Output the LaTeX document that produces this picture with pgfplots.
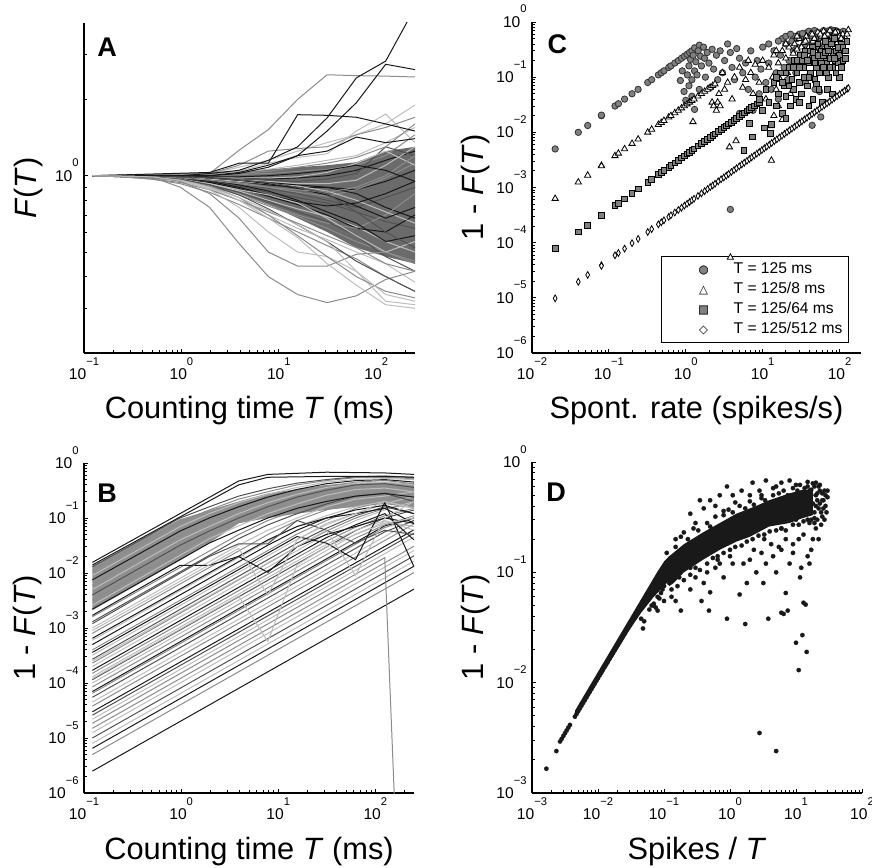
\documentclass[border=0pt]{standalone}
\usepackage{fontspec}
\setmainfont{Liberation Sans}
\newfontfamily\symfont{DejaVu Sans}
\usepackage{pgfplots}
\pgfplotsset{compat=1.18}
\newcommand{\tl}[1]{10\raisebox{7.3pt}{\fontsize{5.6}{6}\selectfont #1}}
\definecolor{ck}{gray}{0.1}
\definecolor{cd}{gray}{0.32}
\definecolor{cg}{gray}{0.55}
\definecolor{cl}{gray}{0.74}
\definecolor{fillA}{gray}{0.42}
\definecolor{fillB}{gray}{0.56}
\definecolor{mkgray}{gray}{0.5}
\definecolor{mkedge}{gray}{0.2}
\newcommand{\twoglyph}[3]{\makebox[14pt][c]{\symfont\fontsize{5.8}{6}\selectfont\makebox[0pt][c]{\textcolor{#1}{#2}}\makebox[0pt][c]{\textcolor{black}{#3}}}}
\pgfplotsset{
 every axis/.append style={scale only axis, axis lines*=left, tick align=inside,
  major tick length=2.2pt, minor tick length=1.3pt,
  tick style={black, line width=0.4pt},
  axis line style={black, line width=0.6pt},
  tick label style={font=\fontsize{7.8}{9}\selectfont},
  xticklabel style={anchor=north, inner sep=2pt},
  yticklabel style={anchor=base east, yshift=-2.8pt, inner sep=2.5pt},
  x label style={at={(axis description cs:0.5,0)}, anchor=base, yshift=-33pt, font=\fontsize{15.4}{18}\selectfont},
  y label style={at={(axis description cs:-0.147,0.5)}, anchor=base, font=\fontsize{15.4}{18}\selectfont},
 },
 lk/.style={ck, line width=0.5pt}, ld/.style={cd,line width=0.5pt},
 lg/.style={cg,line width=0.5pt}, ll/.style={cl,line width=0.5pt},
}
\begin{document}
\begin{tikzpicture}
%================ Panel A ================
\begin{axis}[xmode=log, ymode=log, at={(42pt,257pt)}, anchor=south west, width=165.5pt, height=165pt,
  xmin=0.1, xmax=250, ymin=0.2, ymax=4,
  xtick={0.1,1,10,100}, xticklabels={\tl{−1},\tl{0},\tl{1},\tl{2}},
  minor xtick={0.2,0.3,0.4,0.5,0.6,0.7,0.8,0.9,2,3,4,5,6,7,8,9,20,30,40,50,60,70,80,90,200},
  ytick={1}, yticklabels={\tl{0}},
  minor ytick={0.3,0.4,0.5,0.6,0.7,0.8,0.9,2,3},
  xlabel={Counting time \textit{T} (ms)}, ylabel={\textit{F}(\textit{T})},
  y label style={at={(axis description cs:-0.142,0.5)}}]
\addplot[fill=fillA, draw=none] coordinates {(0.122,1.0)(0.977,1.015)(1.95,1.03)(3.91,1.04)(7.81,1.06)(15.6,1.08)(31.3,1.1)(62.5,1.13)(125,1.25)(250,1.3)(250,0.45)(125,0.48)(62.5,0.52)(31.3,0.6)(15.6,0.68)(7.81,0.77)(3.91,0.85)(1.95,0.92)(0.977,0.965)(0.488,0.985)(0.244,0.995)(0.122,1.0)} -- cycle;
\addplot[ll] coordinates {(0.122,1)(0.244,1)(0.488,0.99)(0.977,0.97)(1.95,0.93)(3.91,0.87)(7.81,0.8)(15.6,0.74)(31.3,0.69)(62.5,0.63)(125,0.55)(250,0.5)};
\addplot[lk] coordinates {(0.122,1)(0.244,1)(0.488,1)(0.977,0.99)(1.95,0.98)(3.91,0.96)(7.81,0.94)(15.6,0.92)(31.3,0.9)(62.5,0.88)(125,0.95)(250,1.05)};
\addplot[ld] coordinates {(0.122,1)(0.244,1)(0.488,0.99)(0.977,0.98)(1.95,0.95)(3.91,0.91)(7.81,0.86)(15.6,0.82)(31.3,0.78)(62.5,0.72)(125,0.66)(250,0.62)};
\addplot[lg] coordinates {(0.122,1)(0.244,1)(0.488,1)(0.977,0.99)(1.95,0.97)(3.91,0.94)(7.81,0.9)(15.6,0.86)(31.3,0.83)(62.5,0.88)(125,0.98)(250,1.12)};
\addplot[lk] coordinates {(0.122,1)(0.244,1)(0.488,1)(0.977,1)(1.95,0.99)(3.91,0.98)(7.81,0.97)(15.6,0.98)(31.3,1.0)(62.5,1.05)(125,1.15)(250,1.25)};
\addplot[lg] coordinates {(0.122,1)(0.244,0.99)(0.488,0.98)(0.977,0.96)(1.95,0.91)(3.91,0.84)(7.81,0.76)(15.6,0.69)(31.3,0.62)(62.5,0.55)(125,0.5)(250,0.46)};
\addplot[ll] coordinates {(0.122,1)(0.244,1)(0.488,1)(0.977,0.99)(1.95,0.98)(3.91,0.97)(7.81,0.95)(15.6,0.93)(31.3,0.93)(62.5,0.96)(125,1.1)(250,1.3)};
\addplot[lk] coordinates {(0.122,1)(0.244,1)(0.488,0.99)(0.977,0.97)(1.95,0.94)(3.91,0.89)(7.81,0.83)(15.6,0.77)(31.3,0.7)(62.5,0.62)(125,0.6)(250,0.7)};
\addplot[ld] coordinates {(0.122,1)(0.244,1)(0.488,0.99)(0.977,0.98)(1.95,0.96)(3.91,0.93)(7.81,0.89)(15.6,0.85)(31.3,0.8)(62.5,0.75)(125,0.82)(250,0.9)};
\addplot[ll] coordinates {(0.122,1)(0.244,0.99)(0.488,0.98)(0.977,0.95)(1.95,0.89)(3.91,0.8)(7.81,0.7)(15.6,0.62)(31.3,0.56)(62.5,0.5)(125,0.45)(250,0.38)};
\addplot[lg] coordinates {(0.122,1)(0.244,1)(0.488,1)(0.977,1)(1.95,1)(3.91,1.01)(7.81,1.02)(15.6,1.04)(31.3,1.06)(62.5,1.1)(125,1.2)(250,1.45)};
\addplot[lk] coordinates {(0.122,1)(0.244,1)(0.488,0.99)(0.977,0.98)(1.95,0.97)(3.91,0.95)(7.81,0.92)(15.6,0.9)(31.3,0.9)(62.5,0.85)(125,0.75)(250,0.68)};
\addplot[lg] coordinates {(0.122,1)(0.244,1)(0.488,0.99)(0.977,0.97)(1.95,0.92)(3.91,0.85)(7.81,0.77)(15.6,0.7)(31.3,0.65)(62.5,0.62)(125,0.7)(250,0.85)};
\addplot[ld] coordinates {(0.122,1)(0.244,1)(0.488,1)(0.977,0.99)(1.95,0.98)(3.91,0.97)(7.81,0.96)(15.6,0.95)(31.3,0.97)(62.5,1.02)(125,1.3)(250,1.2)};
\addplot[lg] coordinates {(0.122,1)(0.244,0.99)(0.488,0.97)(0.977,0.93)(1.95,0.86)(3.91,0.77)(7.81,0.68)(15.6,0.6)(31.3,0.53)(62.5,0.47)(125,0.4)(250,0.35)};
\addplot[ll] coordinates {(0.122,1)(0.244,1)(0.488,1)(0.977,0.99)(1.95,0.99)(3.91,0.98)(7.81,0.98)(15.6,0.99)(31.3,1.03)(62.5,1.12)(125,1.25)(250,1.1)};
\addplot[lk] coordinates {(0.122,1)(0.244,1)(0.488,0.99)(0.977,0.98)(1.95,0.96)(3.91,0.92)(7.81,0.87)(15.6,0.8)(31.3,0.72)(62.5,0.65)(125,0.55)(250,0.58)};
\addplot[ll] coordinates {(0.122,1)(0.244,1)(0.488,1)(0.977,0.99)(1.95,0.97)(3.91,0.95)(7.81,0.93)(15.6,0.91)(31.3,0.87)(62.5,0.8)(125,0.72)(250,0.65)};
\addplot[lk] coordinates {(0.122,1)(0.244,1)(0.488,0.99)(0.977,0.98)(1.95,0.95)(3.91,0.9)(7.81,0.84)(15.6,0.79)(31.3,0.76)(62.5,0.78)(125,0.85)(250,0.95)};
\addplot[ld] coordinates {(0.122,1)(0.244,0.99)(0.488,0.98)(0.977,0.96)(1.95,0.92)(3.91,0.86)(7.81,0.79)(15.6,0.72)(31.3,0.66)(62.5,0.58)(125,0.48)(250,0.42)};
\addplot[ll] coordinates {(0.122,1)(0.244,1)(0.488,1)(0.977,1)(1.95,1.01)(3.91,1.03)(7.81,1.06)(15.6,1.1)(31.3,1.15)(62.5,1.2)(125,1.35)(250,1.55)};
\addplot[lg] coordinates {(0.122,1)(0.244,1)(0.488,1)(0.977,1)(1.95,1.01)(3.91,1.02)(7.81,1.04)(15.6,1.08)(31.3,1.12)(62.5,1.18)(125,1.3)(250,1.6)};
\addplot[ll] coordinates {(0.122,1)(0.244,1)(0.488,0.99)(0.977,0.97)(1.95,0.93)(3.91,0.88)(7.81,0.84)(15.6,0.78)(31.3,0.68)(62.5,0.58)(125,0.5)(250,0.55)};
\addplot[lk] coordinates {(0.122,1)(0.244,1)(0.488,1)(0.977,0.99)(1.95,0.98)(3.91,0.96)(7.81,0.93)(15.6,0.89)(31.3,0.84)(62.5,0.76)(125,0.68)(250,0.75)};
\addplot[lg] coordinates {(0.122,1)(0.244,0.99)(0.488,0.97)(0.977,0.94)(1.95,0.88)(3.91,0.8)(7.81,0.72)(15.6,0.65)(31.3,0.58)(62.5,0.52)(125,0.45)(250,0.42)};
\addplot[lg] coordinates {(0.122,1)(0.244,1)(0.488,0.99)(0.977,0.98)(1.95,0.96)(3.91,0.93)(7.81,0.9)(15.6,0.88)(31.3,0.86)(62.5,0.9)(125,1.0)(250,1.2)};
\addplot[ld] coordinates {(0.122,1)(0.244,1)(0.488,1)(0.977,0.99)(1.95,0.98)(3.91,0.96)(7.81,0.94)(15.6,0.9)(31.3,0.85)(62.5,0.72)(125,0.6)(250,0.52)};
\addplot[lk] coordinates {(0.122,1)(0.244,1)(0.488,1)(0.977,1)(1.95,0.99)(3.91,0.99)(7.81,1.0)(15.6,1.02)(31.3,1.05)(62.5,1.1)(125,1.05)(250,0.95)};
\addplot[ll] coordinates {(0.122,1)(1.95,1.02)(3.91,1.08)(7.81,1.15)(15.6,1.25)(31.3,1.35)(62.5,1.45)(125,1.6)(250,1.9)};
\addplot[lg] coordinates {(0.122,1)(1.95,1.02)(3.91,1.1)(7.81,1.25)(15.6,1.28)(31.3,1.3)(62.5,1.45)(125,1.55)(250,1.7)};
\addplot[ll] coordinates {(0.122,1)(1.95,1.0)(3.91,1.04)(7.81,1.12)(15.6,1.18)(31.3,1.22)(62.5,1.5)(125,1.75)(250,1.35)};
\addplot[lk] coordinates {(0.122,1)(1.95,1.0)(3.91,1.03)(7.81,1.1)(15.6,1.2)(31.3,1.25)(62.5,1.42)(125,1.35)(250,1.4)};
\addplot[lg] coordinates {(0.122,1)(1.95,1.02)(3.91,1.26)(7.81,1.52)(15.6,2.0)(31.3,2.5)(62.5,2.48)(125,2.47)(250,2.45)};
\addplot[lk] coordinates {(0.122,1)(1.95,1.03)(3.91,1.12)(7.81,1.12)(15.6,1.74)(31.3,1.73)(62.5,1.7)(125,1.6)(250,1.5)};
\addplot[lk] coordinates {(0.122,1)(1.95,1.0)(3.91,1.02)(7.81,1.08)(15.6,1.2)(31.3,1.5)(62.5,1.94)(125,2.75)(250,2.62)};
\addplot[lk] coordinates {(0.122,1)(0.977,1)(1.95,1.02)(3.91,1.05)(7.81,1.15)(15.6,1.3)(31.3,1.69)(62.5,2.43)(125,2.83)(250,4.6)};
\addplot[lg] coordinates {(0.122,1)(0.488,0.99)(0.977,0.9)(1.95,0.75)(3.91,0.54)(7.81,0.4)(15.6,0.34)(31.3,0.316)(62.5,0.336)(125,0.39)(250,0.42)};
\addplot[lg] coordinates {(0.122,1)(0.488,0.99)(0.977,0.95)(1.95,0.85)(3.91,0.68)(7.81,0.5)(15.6,0.44)(31.3,0.44)(62.5,0.49)(125,0.5)(250,0.45)};
\addplot[ll] coordinates {(0.122,1)(0.488,0.99)(0.977,0.96)(1.95,0.88)(3.91,0.75)(7.81,0.6)(15.6,0.5)(31.3,0.48)(62.5,0.42)(125,0.32)(250,0.31)};
\addplot[ll] coordinates {(0.122,1)(0.488,0.99)(0.977,0.97)(1.95,0.9)(3.91,0.8)(7.81,0.68)(15.6,0.57)(31.3,0.45)(62.5,0.37)(125,0.31)(250,0.3)};
\addplot[lg] coordinates {(0.122,1)(0.488,0.99)(0.977,0.97)(1.95,0.91)(3.91,0.82)(7.81,0.7)(15.6,0.58)(31.3,0.48)(62.5,0.4)(125,0.35)(250,0.33)};
\addplot[ld] coordinates {(0.122,1)(0.488,0.99)(0.977,0.97)(1.95,0.92)(3.91,0.84)(7.81,0.74)(15.6,0.64)(31.3,0.55)(62.5,0.46)(125,0.4)(250,0.35)};
\addplot[ll] coordinates {(0.122,1)(0.488,0.99)(0.977,0.96)(1.95,0.9)(3.91,0.82)(7.81,0.73)(15.6,0.64)(31.3,0.55)(62.5,0.42)(125,0.34)(250,0.32)};
\node[anchor=north west, inner sep=0pt, font=\fontsize{13.5}{14}\selectfont\bfseries] at (rel axis cs:0.039,0.955) {A};
\end{axis}
%================ Panel B ================
\begin{axis}[xmode=log, ymode=log, at={(42pt,37pt)}, anchor=south west, width=165pt, height=165pt,
  xmin=0.1, xmax=250, ymin=1e-6, ymax=1,
  xtick={0.1,1,10,100}, xticklabels={\tl{−1},\tl{0},\tl{1},\tl{2}},
  minor xtick={0.2,0.3,0.4,0.5,0.6,0.7,0.8,0.9,2,3,4,5,6,7,8,9,20,30,40,50,60,70,80,90,200},
  ytick={1e-6,1e-5,1e-4,1e-3,1e-2,1e-1,1}, yticklabels={\tl{−6},\tl{−5},\tl{−4},\tl{−3},\tl{−2},\tl{−1},\tl{0}},
  minor ytick={2e-6,3e-6,4e-6,5e-6,6e-6,7e-6,8e-6,9e-6,2e-5,3e-5,4e-5,5e-5,6e-5,7e-5,8e-5,9e-5,2e-4,3e-4,4e-4,5e-4,6e-4,7e-4,8e-4,9e-4,0.002,0.003,0.004,0.005,0.006,0.007,0.008,0.009,0.02,0.03,0.04,0.05,0.06,0.07,0.08,0.09,0.2,0.3,0.4,0.5,0.6,0.7,0.8,0.9},
  xlabel={Counting time \textit{T} (ms)}, ylabel={1 - \textit{F}(\textit{T})}]
\addplot[fill=fillB, draw=none] coordinates {(0.122,0.0135)(0.977,0.095)(3.91,0.2)(7.81,0.28)(31.3,0.4)(125,0.45)(250,0.42)(250,0.15)(125,0.18)(62.5,0.16)(31.3,0.14)(15.6,0.12)(7.81,0.1)(3.91,0.08)(1.95,0.035)(0.977,0.017)(0.122,0.0021)} -- cycle;
\addplot[lk] coordinates {(0.122,2.5e-6)(250,5.1e-3)};
\addplot[lg] coordinates {(0.122,5e-6)(250,1.02e-2)};
\addplot[lk] coordinates {(0.122,6.5e-6)(250,1.33e-2)};
\addplot[ll] coordinates {(0.122,8e-6)(250,1.64e-2)};
\addplot[ld] coordinates {(0.122,1e-5)(250,2.05e-2)};
\addplot[ll] coordinates {(0.122,1.25e-5)(250,2.56e-2)};
\addplot[lg] coordinates {(0.122,1.5e-5)(250,3.07e-2)};
\addplot[lg] coordinates {(0.122,1.85e-5)(125,1.9e-2)(250,1e-15)};
\addplot[ll] coordinates {(0.122,2.2e-5)(250,4.5e-2)};
\addplot[ld] coordinates {(0.122,2.6e-5)(250,5.3e-2)};
\addplot[lk] coordinates {(0.122,3e-5)(250,6.1e-2)};
\addplot[lg] coordinates {(0.122,3.8e-5)(250,7.8e-2)};
\addplot[ll] coordinates {(0.122,4.5e-5)(250,9.2e-2)};
\addplot[ld] coordinates {(0.122,5.5e-5)(125,5.6e-2)(250,9e-2)};
\addplot[lg] coordinates {(0.122,6.5e-5)(125,6.7e-2)(250,0.1)};
\addplot[lk] coordinates {(0.122,7e-5)(125,0.072)(250,0.1)};
\addplot[lg] coordinates {(0.122,8.5e-5)(62.5,0.043)(125,0.075)(250,0.11)};
\addplot[ll] coordinates {(0.122,1e-4)(62.5,0.051)(125,0.085)(250,0.07)};
\addplot[ld] coordinates {(0.122,1.15e-4)(62.5,0.059)(125,0.1)(250,0.14)};
\addplot[ll] coordinates {(0.122,1.3e-4)(31.3,0.033)(62.5,0.06)(125,0.09)(250,0.06)};
\addplot[lg] coordinates {(0.122,1.5e-4)(31.3,0.038)(62.5,0.068)(125,0.11)(250,0.15)};
\addplot[lk] coordinates {(0.122,1.7e-4)(31.3,0.044)(62.5,0.075)(125,0.12)(250,0.04)};
\addplot[ll] coordinates {(0.122,2e-4)(31.3,0.051)(62.5,0.09)(125,0.14)(250,0.2)};
\addplot[lg] coordinates {(0.122,2.3e-4)(15.6,0.03)(31.3,0.058)(62.5,0.1)(125,0.15)(250,0.18)};
\addplot[ld] coordinates {(0.122,2.7e-4)(15.6,0.035)(31.3,0.065)(62.5,0.11)(125,0.16)(250,0.12)};
\addplot[ll] coordinates {(0.122,3.2e-4)(15.6,0.041)(31.3,0.075)(62.5,0.12)(125,0.18)(250,0.25)};
\addplot[lg] coordinates {(0.122,4e-4)(15.6,0.051)(31.3,0.09)(62.5,0.15)(125,0.2)(250,0.3)};
\addplot[lk] coordinates {(0.122,5e-4)(7.81,0.032)(15.6,0.06)(31.3,0.1)(62.5,0.14)(125,0.17)(250,0.12)};
\addplot[ll] coordinates {(0.122,6e-4)(7.81,0.038)(15.6,0.07)(31.3,0.11)(62.5,0.16)(125,0.2)(250,0.15)};
\addplot[lk] coordinates {(0.122,6.5e-4)(7.81,0.04)(15.6,0.07)(31.3,0.1)(62.5,0.12)(125,0.15)(250,0.08)};
\addplot[lg] coordinates {(0.122,8e-4)(7.81,0.05)(15.6,0.09)(31.3,0.14)(62.5,0.2)(125,0.22)(250,0.25)};
\addplot[ll] coordinates {(0.122,1e-3)(3.91,0.032)(7.81,0.06)(15.6,0.1)(31.3,0.16)(62.5,0.22)(125,0.25)(250,0.3)};
\addplot[ld] coordinates {(0.122,1.3e-3)(3.91,0.042)(7.81,0.075)(15.6,0.12)(31.3,0.18)(62.5,0.25)(125,0.28)(250,0.2)};
\addplot[lg] coordinates {(0.122,1.6e-3)(3.91,0.05)(7.81,0.09)(15.6,0.14)(31.3,0.2)(62.5,0.27)(125,0.3)(250,0.35)};
\addplot[lk] coordinates {(0.122,2.2e-3)(1.95,0.035)(3.91,0.06)(7.81,0.1)(15.6,0.15)(31.3,0.2)(62.5,0.25)(125,0.28)(250,0.24)};
\addplot[ll] coordinates {(0.122,2.6e-3)(1.95,0.042)(3.91,0.072)(7.81,0.12)(15.6,0.18)(31.3,0.26)(62.5,0.33)(125,0.35)(250,0.3)};
\addplot[lg] coordinates {(0.122,3.2e-3)(1.95,0.05)(3.91,0.085)(7.81,0.14)(15.6,0.21)(31.3,0.28)(62.5,0.35)(125,0.38)(250,0.33)};
\addplot[ld] coordinates {(0.122,4e-3)(0.977,0.032)(1.95,0.058)(3.91,0.1)(7.81,0.16)(15.6,0.24)(31.3,0.32)(62.5,0.4)(125,0.42)(250,0.36)};
\addplot[ll] coordinates {(0.122,5e-3)(0.977,0.04)(1.95,0.07)(3.91,0.12)(7.81,0.19)(15.6,0.27)(31.3,0.36)(62.5,0.43)(125,0.45)(250,0.4)};
\addplot[lg] coordinates {(0.122,6e-3)(0.977,0.048)(1.95,0.085)(3.91,0.14)(7.81,0.21)(15.6,0.3)(31.3,0.38)(62.5,0.45)(125,0.48)(250,0.42)};
\addplot[lk] coordinates {(0.122,7.5e-3)(0.977,0.058)(1.95,0.1)(3.91,0.16)(7.81,0.24)(15.6,0.33)(31.3,0.42)(62.5,0.48)(125,0.5)(250,0.45)};
\addplot[ll] coordinates {(0.122,9e-3)(0.977,0.07)(1.95,0.12)(3.91,0.19)(7.81,0.27)(15.6,0.36)(31.3,0.45)(62.5,0.5)(125,0.52)(250,0.5)};
\addplot[lg] coordinates {(0.122,1.1e-2)(0.977,0.085)(1.95,0.14)(3.91,0.22)(7.81,0.3)(15.6,0.4)(31.3,0.48)(62.5,0.54)(125,0.55)(250,0.52)};
\addplot[ld] coordinates {(0.122,1.3e-2)(0.977,0.1)(1.95,0.16)(3.91,0.25)(7.81,0.34)(15.6,0.43)(31.3,0.5)(62.5,0.56)(125,0.58)(250,0.55)};
\addplot[lk] coordinates {(0.122,1.4e-2)(3.91,0.40)(7.81,0.55)(31.3,0.57)(125,0.57)(250,0.55)};
\addplot[lk] coordinates {(0.122,1.56e-2)(3.91,0.47)(7.81,0.62)(31.3,0.68)(125,0.66)(250,0.62)};
\addplot[lk] coordinates {(0.122,1.7e-3)(0.977,1.38e-2)(1.95,1.38e-2)(3.91,2e-2)(7.81,1.03e-2)(15.6,0.03)(31.3,0.05)(62.5,0.07)(125,0.1)(250,0.08)};
\addplot[lk] coordinates {(0.122,3.6e-4)(15.6,0.046)(31.3,0.035)(62.5,0.0175)(125,0.19)(250,0.013)};
\addplot[ld] coordinates {(0.122,1.2e-3)(1.95,0.02)(3.91,0.034)(7.81,0.034)(15.6,0.09)(31.3,0.06)(62.5,0.035)(125,0.06)(250,0.05)};
\addplot[ll] coordinates {(0.122,1.2e-4)(3.91,3.8e-3)(7.81,5.7e-4)(15.6,1.4e-2)(31.3,0.03)(62.5,0.05)(125,0.08)(250,0.1)};
\addplot[ll] coordinates {(0.122,2.5e-4)(31.3,0.06)(62.5,0.009)(125,0.1)(250,0.2)};
\addplot[ll] coordinates {(0.122,9e-4)(3.91,0.028)(7.81,0.004)(15.6,0.04)(31.3,0.08)(62.5,0.12)(125,0.2)(250,0.15)};
\node[anchor=north west, inner sep=0pt, font=\fontsize{13.5}{14}\selectfont\bfseries] at (rel axis cs:0.039,0.939) {B};
\end{axis}
%================ Panel C ================
\begin{axis}[xmode=log, ymode=log, at={(266pt,257pt)}, anchor=south west, width=164.5pt, height=165.5pt,
  xmin=0.01, xmax=190, ymin=1e-6, ymax=1,
  xtick={0.01,0.1,1,10,100}, xticklabels={\tl{−2},\tl{−1},\tl{0},\tl{1},\tl{2}},
  minor xtick={0.02,0.03,0.04,0.05,0.06,0.07,0.08,0.09,0.2,0.3,0.4,0.5,0.6,0.7,0.8,0.9,2,3,4,5,6,7,8,9,20,30,40,50,60,70,80,90},
  ytick={1e-6,1e-5,1e-4,1e-3,1e-2,1e-1,1}, yticklabels={\tl{−6},\tl{−5},\tl{−4},\tl{−3},\tl{−2},\tl{−1},\tl{0}},
  minor ytick={2e-6,3e-6,4e-6,5e-6,6e-6,7e-6,8e-6,9e-6,2e-5,3e-5,4e-5,5e-5,6e-5,7e-5,8e-5,9e-5,2e-4,3e-4,4e-4,5e-4,6e-4,7e-4,8e-4,9e-4,0.002,0.003,0.004,0.005,0.006,0.007,0.008,0.009,0.02,0.03,0.04,0.05,0.06,0.07,0.08,0.09,0.2,0.3,0.4,0.5,0.6,0.7,0.8,0.9},
  xlabel={Spont. rate (spikes/s)}, ylabel={1 - \textit{F}(\textit{T})}]
\addplot[only marks, mark=*, mark size=1.6pt, mark options={fill=mkgray, draw=mkedge, line width=0.4pt}] coordinates {
(0.02,0.005)(0.04,0.01)(0.053,0.0133)(0.08,0.02)(0.08,0.0205)(0.12,0.03)(0.133,0.033)(0.16,0.04)(0.2,0.05)(0.24,0.06)(0.32,0.08)(0.36,0.09)(0.44,0.11)(0.48,0.12)(0.52,0.13)(0.6,0.15)(0.64,0.16)(0.72,0.18)(0.8,0.2)(0.88,0.22)(0.96,0.24)(1.04,0.26)(1.12,0.28)(1.2,0.3)(1.3,0.34)(1.5,0.38)
(0.85,0.087)(0.9,0.13)(0.95,0.055)(1.0,0.038)(1.05,0.11)(1.1,0.16)(1.1,0.07)(1.15,0.21)(1.2,0.09)(1.2,0.045)(1.25,0.25)(1.3,0.13)(1.3,0.026)(1.35,0.19)(1.4,0.11)(1.45,0.3)(1.5,0.06)(1.55,0.24)(1.6,0.16)(1.7,0.35)(1.75,0.22)(1.8,0.1)(1.9,0.28)(2.0,0.18)(2.1,0.065)(2.2,0.32)(2.3,0.14)(2.5,0.25)(2.6,0.09)(2.8,0.3)(3.0,0.12)(3.2,0.2)(3.5,0.4)(3.8,0.28)(3.8,0.0004)(4.0,0.15)(4.3,0.09)(4.6,0.33)(5.0,0.22)(5.0,0.022)(5.5,0.12)(6.0,0.18)(6.5,0.06)(7.0,0.3)(7.5,0.025)(8.0,0.1)(8.5,0.2)(9.0,0.05)(9.5,0.14)
(10,0.35)(11,0.08)(12,0.18)(13,0.06)(14,0.3)(15,0.12)(16,0.04)(17,0.25)(18,0.5)(19,0.15)(20,0.4)(21,0.09)(22,0.2)(24,0.45)(25,0.3)(26,0.55)(27,0.12)(28,0.35)(30,0.6)(31,0.25)(32,0.18)(34,0.5)(35,0.4)(36,0.08)(38,0.65)(40,0.3)(42,0.55)(44,0.0134)(45,0.2)(47,0.7)(48,0.45)(48,0.06)(50,0.35)(52,0.6)(55,0.5)(55,0.055)(57,0.019)(58,0.65)(60,0.4)(60,0.25)(62,0.7)(65,0.55)(65,0.2)(68,0.3)(70,0.68)(70,0.15)(72,0.5)(75,0.6)(78,0.72)(80,0.45)(82,0.65)(85,0.55)(88,0.7)(90,0.6)(95,0.5)(100,0.65)(100,0.22)(105,0.3)(110,0.55)(110,0.2)(115,0.6)
(12,0.4)(16,0.45)(20,0.55)(23,0.6)(28,0.5)(33,0.62)(36,0.35)(40,0.68)(44,0.45)(50,0.62)(54,0.35)(58,0.5)(64,0.6)(68,0.62)(74,0.7)(84,0.6)(92,0.68)(98,0.58)(105,0.62)(112,0.68)};
\addplot[only marks, mark=triangle*, mark size=1.8pt, mark options={fill=white, draw=black, line width=0.4pt}] coordinates {
(0.02,6.3e-4)(0.04,1.25e-3)(0.053,1.66e-3)(0.08,2.5e-3)(0.08,2.45e-3)(0.12,3.75e-3)(0.133,4.16e-3)(0.16,5e-3)(0.2,6.25e-3)(0.24,7.5e-3)(0.32,0.01)(0.36,0.0113)(0.44,0.0138)(0.48,0.015)(0.52,0.0163)(0.6,0.0188)(0.64,0.02)(0.72,0.0225)(0.8,0.025)(0.88,0.0275)(0.96,0.03)(1.04,0.0325)(1.12,0.035)(1.2,0.0375)(1.28,0.04)(1.44,0.045)(1.6,0.05)(1.76,0.055)(1.92,0.06)(2.08,0.065)(2.24,0.07)(2.4,0.075)
(1.24,0.0155)(2.2,0.035)(2.3,0.03)(2.5,0.025)(2.6,0.035)(2.7,0.05)(2.8,0.03)(3,0.12)(3.2,0.06)(3.5,0.08)(3.7,0.0054)(3.8,5.4e-5)(4,0.04)(4.3,0.1)(4.5,0.007)(5,0.15)(5.5,0.065)(6,0.09)(6.5,0.2)(7,0.12)(7.5,0.05)(8,0.17)(9,0.08)(10,0.2)(11,0.04)(12,0.15)(12.5,0.013)(13,0.0031)(13.5,0.1)(14,0.25)(14,0.02)(15,0.06)(16,0.18)(16,0.03)(17,0.09)(18,0.3)(18,0.017)(20,0.22)(21,0.12)(22,0.35)(23,0.05)(25,0.27)(26,0.4)(27,0.15)(28,0.32)(30,0.5)(32,0.2)(34,0.42)(35,0.3)(37,0.55)(38,0.1)(40,0.35)(42,0.6)(44,0.25)(45,0.45)(47,0.5)(50,0.4)(52,0.65)(55,0.3)(58,0.55)(60,0.45)(62,0.68)(65,0.5)(68,0.35)(70,0.6)(75,0.7)(78,0.45)(80,0.55)(85,0.62)(90,0.5)(95,0.65)(100,0.55)(110,0.6)(120,0.5)(130,0.72)
(15,0.3)(20,0.4)(24,0.15)(28,0.55)(32,0.35)(36,0.45)(40,0.2)(44,0.6)(48,0.3)(52,0.4)(56,0.6)(60,0.25)(64,0.55)(72,0.45)(76,0.35)(82,0.4)(88,0.65)(92,0.4)(105,0.5)(115,0.45)(125,0.6)};
\addplot[only marks, mark=square*, mark size=1.4pt, mark options={fill=mkgray, draw=black, line width=0.4pt}] coordinates {
(0.02,7.8e-5)(0.04,1.56e-4)(0.053,2.07e-4)(0.08,3.13e-4)(0.12,4.69e-4)(0.133,5.2e-4)(0.16,6.25e-4)(0.2,7.81e-4)(0.24,9.38e-4)(0.32,1.25e-3)(0.36,1.41e-3)(0.44,1.72e-3)(0.48,1.88e-3)(0.52,2.03e-3)(0.6,2.34e-3)(0.64,2.5e-3)(0.72,2.81e-3)(0.8,3.13e-3)(0.88,3.44e-3)(0.96,3.75e-3)(1.04,4.06e-3)(1.12,4.38e-3)(1.2,4.69e-3)(1.28,5.0e-3)(1.44,5.63e-3)(1.6,6.25e-3)(1.76,6.88e-3)(1.92,7.5e-3)(2.08,8.13e-3)(2.24,8.75e-3)(2.4,9.38e-3)(2.64,1.03e-2)(2.88,1.13e-2)(3.12,1.22e-2)(3.36,1.31e-2)(3.6,1.41e-2)(3.92,1.53e-2)(4.24,1.66e-2)(4.56,1.78e-2)(4.96,1.94e-2)(5.36,2.09e-2)(5.76,2.25e-2)(6.24,2.44e-2)(6.72,2.63e-2)(7.2,2.81e-2)(7.76,3.03e-2)(8.4,3.28e-2)(9.04,3.53e-2)
(5.7,4.7e-3)(6.7,0.0144)(7.3,8.3e-3)(9,0.04)(10,0.025)(10.5,0.012)(11,0.06)(12,0.035)(12.5,0.0095)(13,0.014)(14,0.08)(15,0.03)(16,0.05)(17,0.12)(18,0.022)(19,0.07)(20,0.045)(20,0.018)(22,0.15)(23,0.03)(24,0.09)(25,0.06)(26,0.2)(27,0.04)(28,0.12)(30,0.08)(30,0.035)(31,0.25)(32,0.05)(34,0.15)(35,0.1)(36,0.3)(38,0.07)(40,0.18)(40,0.03)(42,0.12)(44,0.35)(45,0.04)(47,0.22)(48,0.09)(50,0.15)(50,0.075)(52,0.4)(54,0.06)(56,0.2)(58,0.3)(60,0.12)(60,0.035)(62,0.25)(65,0.45)(68,0.18)(70,0.35)(70,0.06)(72,0.1)(75,0.22)(78,0.4)(80,0.15)(80,0.05)(82,0.28)(85,0.5)(88,0.2)(90,0.3)(95,0.18)(100,0.25)(100,0.1)(105,0.4)(110,0.2)(115,0.3)(120,0.22)(125,0.45)
(15,0.1)(18,0.08)(20,0.12)(22,0.07)(25,0.15)(28,0.2)(30,0.15)(33,0.2)(35,0.25)(38,0.2)(40,0.1)(42,0.3)(45,0.28)(48,0.18)(52,0.25)(55,0.12)(58,0.18)(62,0.15)(65,0.28)(68,0.12)(72,0.3)(75,0.15)(85,0.22)(90,0.12)(95,0.35)(105,0.15)(110,0.35)(120,0.3)};
\addplot[only marks, mark=diamond*, mark size=1.7pt, mark options={fill=white, draw=black, line width=0.4pt, xscale=0.75}] coordinates {
(0.02,9.8e-6)(0.04,1.95e-5)(0.053,2.6e-5)(0.08,3.9e-5)(0.08,3.8e-5)(0.12,5.9e-5)(0.133,6.5e-5)(0.16,7.8e-5)(0.2,9.8e-5)(0.24,1.17e-4)(0.32,1.56e-4)(0.36,1.76e-4)(0.44,2.15e-4)(0.48,2.34e-4)(0.52,2.54e-4)(0.6,2.93e-4)(0.64,3.13e-4)(0.72,3.52e-4)(0.8,3.91e-4)(0.88,4.3e-4)(0.96,4.69e-4)(1.04,5.08e-4)(1.12,5.47e-4)(1.2,5.86e-4)(1.28,6.25e-4)(1.44,7.03e-4)(1.6,7.81e-4)(1.76,8.59e-4)(1.92,9.38e-4)(2.08,1.02e-3)(2.24,1.09e-3)(2.4,1.17e-3)(2.64,1.29e-3)(2.88,1.41e-3)(3.12,1.52e-3)(3.36,1.64e-3)(3.6,1.76e-3)(3.92,1.91e-3)(4.24,2.07e-3)(4.56,2.23e-3)(4.96,2.42e-3)(5.36,2.62e-3)(5.76,2.81e-3)(6.24,3.05e-3)(6.72,3.28e-3)(7.2,3.52e-3)(7.76,3.79e-3)(8.4,4.1e-3)(9.04,4.41e-3)(9.76,4.77e-3)(10.5,5.13e-3)(11.3,5.52e-3)(12.2,5.96e-3)(13.1,6.4e-3)(14.2,6.93e-3)(15.3,7.47e-3)(16.5,8.06e-3)(17.8,8.69e-3)(19.2,9.38e-3)(20.7,1.01e-2)(22.3,1.09e-2)(24,1.17e-2)(25.9,1.26e-2)(27.9,1.36e-2)(30.1,1.47e-2)(32.4,1.58e-2)(35,1.71e-2)(37.7,1.84e-2)(40.6,1.98e-2)(43.8,2.14e-2)(47.2,2.3e-2)(50.9,2.49e-2)(54.9,2.68e-2)(59.1,2.89e-2)(63.7,3.11e-2)(68.7,3.35e-2)(74,3.61e-2)(79.8,3.9e-2)(86,4.2e-2)(92.7,4.53e-2)(100,4.88e-2)(108,5.27e-2)(116,5.66e-2)(125,6.1e-2)(130,6.35e-2)};
\node[draw=black, line width=0.5pt, fill=white, anchor=south east, inner xsep=0pt, inner ysep=1.5pt, font=\fontsize{7.8}{10}\selectfont] at (rel axis cs:0.9635,0.03) {\begin{tabular}{@{\hspace{14pt}}c@{\hspace{8pt}}l@{\hspace{3pt}}}
\twoglyph{mkgray}{●}{○} & T = 125 ms\\
\twoglyph{white}{▲}{△} & T = 125/8 ms\\
\twoglyph{mkgray}{■}{□} & T = 125/64 ms\\
\twoglyph{white}{◆}{◇} & T = 125/512 ms
\end{tabular}};
\node[anchor=north west, inner sep=0pt, font=\fontsize{13.5}{14}\selectfont\bfseries] at (rel axis cs:0.046,0.964) {C};
\end{axis}
%================ Panel D ================
\begin{axis}[xmode=log, ymode=log, at={(266pt,37pt)}, anchor=south west, width=165pt, height=165.5pt,
  xmin=1e-3, xmax=100, ymin=1e-3, ymax=1,
  xtick={1e-3,1e-2,1e-1,1,10,100}, xticklabels={\tl{−3},\tl{−2},\tl{−1},\tl{0},\tl{1},\tl{2}},
  minor xtick={0.002,0.003,0.004,0.005,0.006,0.007,0.008,0.009,0.02,0.03,0.04,0.05,0.06,0.07,0.08,0.09,0.2,0.3,0.4,0.5,0.6,0.7,0.8,0.9,2,3,4,5,6,7,8,9,20,30,40,50,60,70,80,90},
  ytick={1e-3,1e-2,1e-1,1}, yticklabels={\tl{−3},\tl{−2},\tl{−1},\tl{0}},
  minor ytick={0.002,0.003,0.004,0.005,0.006,0.007,0.008,0.009,0.02,0.03,0.04,0.05,0.06,0.07,0.08,0.09,0.2,0.3,0.4,0.5,0.6,0.7,0.8,0.9},
  xlabel={Spikes / \textit{T}}, ylabel={1 - \textit{F}(\textit{T})}]
\addplot[fill=ck, draw=none] coordinates {(0.1,0.125)(0.12,0.14)(0.2,0.18)(0.39,0.23)(0.7,0.28)(1.25,0.34)(2.5,0.4)(3.9,0.45)(8,0.52)(12.6,0.56)(18,0.55)(18,0.33)(12.6,0.31)(8,0.28)(3.9,0.26)(2,0.21)(1.25,0.19)(0.7,0.16)(0.39,0.13)(0.2,0.1)(0.14,0.08)(0.12,0.075)} -- cycle;
\addplot[fill=ck, draw=none] coordinates {(0.0045,0.0056)(0.08,0.102)(0.1,0.125)(0.12,0.14)(0.12,0.085)(0.1,0.075)(0.07,0.06)(0.045,0.043)(0.03,0.03)(0.0045,0.0047)} -- cycle;
\addplot[only marks, mark=*, mark size=1.1pt, mark options={fill=ck, draw=ck, line width=0.1pt}] coordinates {
(1.65e-3,1.66e-3)(2.34e-3,2.4e-3)(2.66e-3,2.93e-3)(2.82e-3,3.1e-3)(2.99e-3,3.29e-3)(3.16e-3,3.48e-3)(3.35e-3,3.69e-3)(3.55e-3,3.91e-3)(3.76e-3,4.14e-3)(4.47e-3,4.92e-3)(4.73e-3,5.2e-3)(5.01e-3,5.51e-3)(5.31e-3,5.84e-3)(5.62e-3,6.18e-3)(5.96e-3,6.56e-3)(6.31e-3,6.94e-3)(6.68e-3,7.35e-3)(7.08e-3,7.79e-3)(7.5e-3,8.25e-3)(7.94e-3,8.73e-3)(8.41e-3,9.25e-3)(8.91e-3,9.8e-3)(9.44e-3,1.04e-2)(1e-2,1.1e-2)(1.06e-2,1.17e-2)(1.12e-2,1.23e-2)(1.19e-2,1.31e-2)(1.26e-2,1.39e-2)(1.33e-2,1.46e-2)(1.41e-2,1.55e-2)(1.5e-2,1.65e-2)(1.58e-2,1.74e-2)(1.68e-2,1.85e-2)(1.78e-2,1.96e-2)(1.88e-2,2.07e-2)(2e-2,2.2e-2)(2.11e-2,2.32e-2)(2.24e-2,2.46e-2)(2.37e-2,2.61e-2)(2.51e-2,2.76e-2)(2.66e-2,2.93e-2)(2.82e-2,3.1e-2)(2.99e-2,3.29e-2)(3.16e-2,3.48e-2)(3.35e-2,3.69e-2)(3.55e-2,3.91e-2)(3.76e-2,4.14e-2)(3.98e-2,4.38e-2)(4.22e-2,4.64e-2)(4.47e-2,4.92e-2)(4.73e-2,5.2e-2)(5.01e-2,5.51e-2)(5.31e-2,5.84e-2)(5.62e-2,6.18e-2)(5.96e-2,6.56e-2)(6.31e-2,6.94e-2)(6.68e-2,7.35e-2)(7.08e-2,7.79e-2)(7.5e-2,8.25e-2)(7.94e-2,8.73e-2)(8.41e-2,9.25e-2)(8.91e-2,9.8e-2)(9.44e-2,0.104)(0.1,0.11)(0.106,0.117)(0.112,0.123)
(0.045,0.038)(0.05,0.036)(0.048,0.031)(0.06,0.046)(0.065,0.05)(0.07,0.052)(0.08,0.06)(0.09,0.065)(0.085,0.058)(0.075,0.048)(0.095,0.07)
(0.11,0.15)(0.15,0.17)(0.18,0.21)(0.23,0.2)(0.28,0.25)(0.33,0.24)(0.45,0.28)(0.5,0.26)(0.6,0.32)(0.8,0.33)(0.95,0.37)(1.1,0.35)(1.4,0.4)(1.7,0.38)(2.0,0.44)(2.3,0.41)(3.0,0.47)(3.4,0.45)(4.5,0.5)(5.5,0.52)(6.5,0.55)(7.5,0.5)(9,0.58)(10.5,0.55)(11.5,0.62)(13.5,0.58)(15,0.6)(17,0.56)(19,0.6)(21,0.52)(23,0.55)
(0.13,0.07)(0.16,0.075)(0.2,0.085)(0.25,0.095)(0.3,0.11)(0.35,0.105)(0.45,0.12)(0.55,0.135)(0.65,0.14)(0.8,0.15)(1.0,0.16)(1.2,0.17)(1.5,0.175)(1.8,0.19)(2.2,0.2)(2.7,0.215)(3.3,0.22)(4,0.235)(5,0.24)(6,0.25)(7,0.24)(9,0.27)(11,0.27)(13,0.29)(15,0.3)(17,0.3)(19,0.31)(21,0.3)
(24,0.35)(26,0.45)(28,0.4)(30,0.48)(25,0.52)(22,0.38)(27,0.3)(29,0.35)(23,0.62)(20,0.65)(21,0.45)(18,0.42)(19,0.28)
(0.5,0.45)(0.9,0.6)(0.6,0.4)(0.35,0.45)(0.25,0.34)(0.3,0.28)(0.2,0.23)(0.15,0.2)(0.4,0.38)(0.7,0.5)(1.1,0.5)(1.5,0.55)(2.2,0.65)(3.5,0.68)(2,0.5)(2.8,0.55)(1.2,0.43)(0.8,0.36)(5,0.6)(6,0.65)(8,0.68)(10,0.62)(15,0.66)(18,0.64)(22,0.6)(30,0.55)(25,0.45)(28,0.5)(26,0.38)(24,0.27)(20,0.4)(17,0.5)(14,0.45)(12,0.52)(7,0.42)(4.5,0.58)(3,0.5)
(0.07,0.05)(0.08,0.045)(0.1,0.055)(0.13,0.06)(0.15,0.055)(0.18,0.045)(0.12,0.08)(0.25,0.07)(0.3,0.09)(0.37,0.055)(0.4,0.08)(0.45,0.1)(0.5,0.066)(0.6,0.11)(0.7,0.12)(0.8,0.09)(0.9,0.038)(1.0,0.14)(1.4,0.063)(1.6,0.12)(1.8,0.08)(1.7,0.034)(2.0,0.13)(2.5,0.1)(3,0.15)(3.2,0.08)(3.5,0.12)(3.8,0.038)(4.5,0.14)(5,0.1)(5.5,0.17)(6,0.043)(6.5,0.042)(7,0.065)(7.5,0.045)(8,0.12)(9,0.15)(10,0.023)(11,0.013)(11.5,0.09)(12,0.11)(12.5,0.027)(13,0.053)(14,0.051)(14.5,0.019)(15,0.14)(16,0.12)(17,0.16)(18,0.2)(2.8,0.0035)(5,0.0024)
(0.1,0.075)(0.14,0.1)(0.22,0.12)(0.17,0.09)(0.28,0.15)(0.55,0.2)(1.3,0.25)(2.2,0.3)(4,0.35)(9,0.4)(0.48,0.045)(0.65,0.13)(1.1,0.12)(2.3,0.16)(3.3,0.2)(6,0.25)(10,0.3)(20,0.25)(22,0.2)(25,0.32)(27,0.55)(19,0.35)(16,0.28)(13,0.22)(11,0.2)(9,0.18)(7,0.2)(6,0.16)(4.2,0.18)(0.25,0.11)(0.33,0.16)(0.45,0.17)(0.6,0.22)(0.9,0.26)(1.6,0.3)(2.8,0.35)(5,0.4)(8,0.45)(12,0.48)(16,0.55)(20,0.5)(23,0.42)};
\node[anchor=north west, inner sep=0pt, font=\fontsize{13.5}{14}\selectfont\bfseries] at (rel axis cs:0.042,0.937) {D};
\end{axis}
\pgfresetboundingbox
\useasboundingbox (0pt,0pt) rectangle (436pt,433.5pt);
\end{tikzpicture}
\end{document}
